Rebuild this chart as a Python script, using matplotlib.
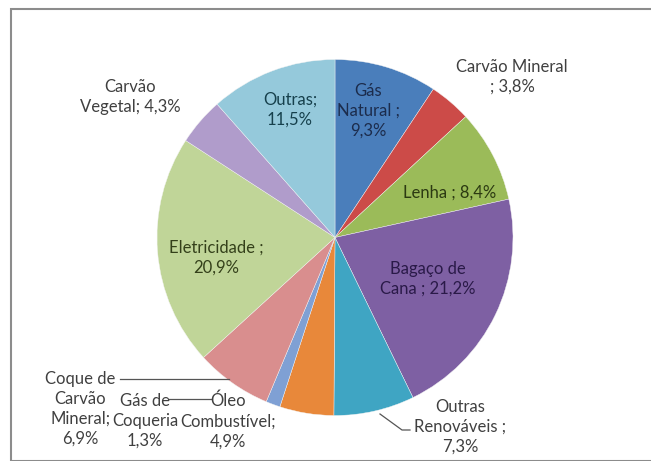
import matplotlib.pyplot as plt
from matplotlib.patches import Rectangle

# energy consumption shares (%), clockwise from 12 o'clock
labels = ["Gás\nNatural ;\n9,3%", "Carvão Mineral\n; 3,8%", "Lenha ; 8,4%",
          "Bagaço de\nCana ; 21,2%", "Outras\nRenováveis ;\n7,3%",
          "Óleo\nCombustível;\n4,9%", "Gás de\nCoqueria\n1,3%",
          "Coque de\nCarvão\nMineral;\n6,9%", "Eletricidade ;\n20,9%",
          "Carvão\nVegetal; 4,3%", "Outras;\n11,5%"]
shares = [9.3, 3.8, 8.4, 21.2, 7.3, 4.9, 1.3, 6.9, 20.9, 4.3, 11.5]
colors = ["#4a7ebb", "#cc4b48", "#9bbb59", "#7e60a3", "#3fa5c3", "#e8883a",
          "#7fa0d4", "#d98e8e", "#c0d598", "#b09ccb", "#95c9db"]

# label anchor points in pixel space (y grows downward) and text colours
label_xy = [(368, 111), (512, 77), (450, 193), (428, 279), (460, 427),
            (228, 421), (145, 421), (80, 409), (216, 258), (130, 97),
            (290, 110)]
label_col = ["#1c2c4c", "#404040", "#2c3a12", "#2a1a48", "#404040",
             "#404040", "#404040", "#404040", "#34401a", "#404040",
             "#16404c"]

W, H = 651, 461
fig = plt.figure(figsize=(W / 100, H / 100), dpi=100)
ax = fig.add_axes([0, 0, 1, 1])

# y axis runs downward here, so -90 is the top and counterclock draws clockwise
ax.pie(shares, colors=colors, startangle=-90, counterclock=True,
       center=(335, 237.5), radius=178,
       wedgeprops=dict(linewidth=0.3, edgecolor="#f4f4f4"))
ax.set_xlim(0, W)
ax.set_ylim(H, 0)
ax.set_aspect("equal")
ax.axis("off")

for txt, (x, y), c in zip(labels, label_xy, label_col):
    ax.text(x, y, txt, ha="center", va="center", fontsize=12,
            family="Lato", color=c, linespacing=1.3, zorder=5)

# leader lines for the labels sitting outside the pie
lc = "#555555"
ax.plot([120, 229], [379, 379], color=lc, lw=0.9)
ax.plot([169, 211], [399, 399], color=lc, lw=0.9)
ax.plot([380, 402, 410], [414, 430, 430], color=lc, lw=0.9)

# chart area frame
fig.patches.append(Rectangle((11 / W, 0), 1.2, 1 - 9 / H, transform=fig.transFigure,
                             fill=False, edgecolor="#8c8c8c", lw=1.5))

fig.savefig("out.png", dpi=100, facecolor="white")
